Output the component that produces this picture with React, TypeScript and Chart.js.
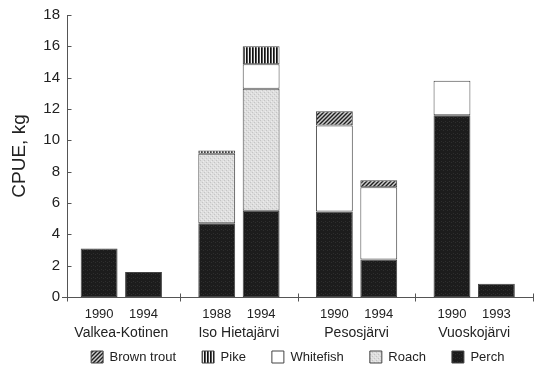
import { useEffect, useRef } from 'react';
import { Chart, registerables } from 'chart.js';

Chart.register(...registerables);

// Lakes and sampling years (first / second survey)
const lakes = ['Valkea-Kotinen', 'Iso Hietajärvi', 'Pesosjärvi', 'Vuoskojärvi'];
const firstYears = ['1990', '1988', '1990', '1990'];
const secondYears = ['1994', '1994', '1994', '1993'];

// CPUE (kg) per species, first and second survey
const perchFirst = [3.1, 4.7, 5.45, 11.6];
const perchSecond = [1.6, 5.5, 2.4, 0.85];
const roachFirst = [null, 4.45, null, null];
const roachSecond = [null, 7.8, null, null];
const whitefishFirst = [null, null, 5.5, 2.2];
const whitefishSecond = [null, 1.55, 4.6, null];
const pikeFirst = [null, 0.2, null, null];
const pikeSecond = [null, 1.15, null, null];
const troutFirst = [null, null, 0.9, null];
const troutSecond = [null, null, 0.45, null];

const yMax = 18;
const yStep = 2;

const FONT = '"Liberation Sans", Arial, sans-serif';
const INK = '#222';
const AXIS = '#555';
// the vertical axis line sits a little inside the start of the category axis
const Y_LINE_INSET = 4.5;

function makeTile(w: number, h: number, paint: (c: CanvasRenderingContext2D) => void) {
  const cv = document.createElement('canvas');
  cv.width = w;
  cv.height = h;
  const c = cv.getContext('2d')!;
  paint(c);
  return document.createElement('canvas').getContext('2d')!.createPattern(cv, 'repeat')!;
}

function makePatterns() {
  const trout = makeTile(4, 4, (c) => {
    c.fillStyle = '#cfcfcf';
    c.fillRect(0, 0, 4, 4);
    c.strokeStyle = '#1e1e1e';
    c.lineWidth = 1.4;
    c.beginPath();
    c.moveTo(-1, 5);
    c.lineTo(5, -1);
    c.moveTo(-1, 1);
    c.lineTo(1, -1);
    c.moveTo(3, 5);
    c.lineTo(5, 3);
    c.stroke();
  });
  const pike = makeTile(3, 1, (c) => {
    c.fillStyle = '#f4f4f4';
    c.fillRect(0, 0, 3, 1);
    c.fillStyle = '#111';
    c.fillRect(0, 0, 1, 1);
    c.fillStyle = '#555';
    c.fillRect(1, 0, 1, 1);
  });
  const roach = makeTile(4, 4, (c) => {
    c.fillStyle = '#dedede';
    c.fillRect(0, 0, 4, 4);
    c.fillStyle = '#c4c4c4';
    c.fillRect(0, 0, 1, 1);
    c.fillRect(2, 2, 1, 1);
    c.fillStyle = '#ececec';
    c.fillRect(1, 3, 1, 1);
    c.fillRect(3, 1, 1, 1);
  });
  const perch = makeTile(4, 4, (c) => {
    c.fillStyle = '#1c1c1c';
    c.fillRect(0, 0, 4, 4);
    c.fillStyle = '#2e2e2e';
    c.fillRect(1, 1, 1, 1);
    c.fillRect(3, 2, 1, 1);
  });
  return { trout, pike, roach, perch };
}

// Y axis line with inward ticks, crossing ticks at lake boundaries, year labels and lake names
const decorations = {
  id: 'decorations',
  afterDatasetsDraw(chart: any) {
    const { ctx, chartArea } = chart;
    const x = chart.scales.x;
    const y = chart.scales.y;
    const n = lakes.length;
    const bottom = Math.round(chartArea.bottom) + 0.5;
    const axisX = Math.round(chartArea.left + Y_LINE_INSET) + 0.5;
    ctx.save();
    ctx.strokeStyle = AXIS;
    ctx.lineWidth = 1;
    // vertical axis line
    ctx.beginPath();
    ctx.moveTo(axisX, Math.round(y.getPixelForValue(yMax)));
    ctx.lineTo(axisX, bottom + 4);
    ctx.stroke();
    // y ticks pointing into the plot
    for (let v = 0; v <= yMax; v += yStep) {
      const py = Math.round(y.getPixelForValue(v)) + 0.5;
      ctx.beginPath();
      ctx.moveTo(axisX, py);
      ctx.lineTo(axisX + 4, py);
      ctx.stroke();
    }
    // boundary ticks between lakes
    for (let i = 1; i <= n; i++) {
      const px = Math.round(x.left + (x.width * i) / n) + 0.5;
      ctx.beginPath();
      ctx.moveTo(px, bottom - 4);
      ctx.lineTo(px, bottom + 4);
      ctx.stroke();
    }

    ctx.fillStyle = INK;
    ctx.textAlign = 'center';
    ctx.textBaseline = 'middle';
    // year labels
    ctx.font = `13px ${FONT}`;
    const firstMeta = chart.getDatasetMeta(0);
    const secondMeta = chart.getDatasetMeta(1);
    for (let j = 0; j < n; j++) {
      ctx.fillText(firstYears[j], firstMeta.data[j].x, chartArea.bottom + 17);
      ctx.fillText(secondYears[j], secondMeta.data[j].x, chartArea.bottom + 17);
    }
    // lake names
    ctx.font = `14px ${FONT}`;
    for (let j = 0; j < n; j++) {
      ctx.fillText(lakes[j], x.getPixelForValue(j), chartArea.bottom + 36);
    }
    ctx.restore();
  },
};

export default function App() {
  const ref = useRef<HTMLCanvasElement>(null);

  useEffect(() => {
    if (!ref.current) return;
    const p = makePatterns();
    const border = '#444';
    const ds = (label: string, data: any[], stack: string, bg: any) => ({
      label,
      data,
      stack,
      backgroundColor: bg,
      borderColor: border,
      borderWidth: 1,
      borderSkipped: false,
      categoryPercentage: 0.755,
      barPercentage: 0.83,
    });

    const chart = new Chart(ref.current, {
      type: 'bar',
      data: {
        labels: lakes,
        datasets: [
          ds('Perch', perchFirst, 'a', p.perch),
          ds('Perch', perchSecond, 'b', p.perch),
          ds('Roach', roachFirst, 'a', p.roach),
          ds('Roach', roachSecond, 'b', p.roach),
          ds('Whitefish', whitefishFirst, 'a', '#ffffff'),
          ds('Whitefish', whitefishSecond, 'b', '#ffffff'),
          ds('Pike', pikeFirst, 'a', p.pike),
          ds('Pike', pikeSecond, 'b', p.pike),
          ds('Brown trout', troutFirst, 'a', p.trout),
          ds('Brown trout', troutSecond, 'b', p.trout),
        ],
      },
      options: {
        responsive: false,
        animation: false,
        layout: { padding: { top: 15, right: 2, left: 0, bottom: 0 } },
        scales: {
          x: {
            stacked: true,
            grid: { display: false, drawTicks: false },
            border: { display: true, color: AXIS, width: 1 },
            ticks: { display: false },
            afterFit: (s: any) => {
              s.height = 27.5;
            },
          },
          y: {
            stacked: true,
            min: 0,
            max: yMax,
            grid: { display: false, drawTicks: false },
            border: { display: false },
            ticks: { stepSize: yStep, color: INK, font: { family: FONT, size: 15 }, padding: 2.5 },
            title: {
              display: true,
              text: 'CPUE, kg',
              color: INK,
              font: { family: FONT, size: 19 },
              padding: { top: 8, bottom: 0 },
            },
            afterFit: (s: any) => {
              s.width = 62.5;
            },
          },
        },
        plugins: {
          tooltip: { enabled: false },
          legend: {
            position: 'bottom',
            fullSize: false,
            reverse: true,
            maxHeight: 43.5,
            labels: {
              boxWidth: 12,
              boxHeight: 12,
              padding: 26,
              color: INK,
              font: { family: FONT, size: 13 },
              filter: (item: any, data: any) => data.datasets[item.datasetIndex].stack === 'a',
            },
          },
        },
      },
      plugins: [decorations],
    });
    return () => chart.destroy();
  }, []);

  return (
    <canvas
      ref={ref}
      width={535}
      height={368}
      style={{ position: 'fixed', left: 0, top: 0, display: 'block' }}
    />
  );
}
